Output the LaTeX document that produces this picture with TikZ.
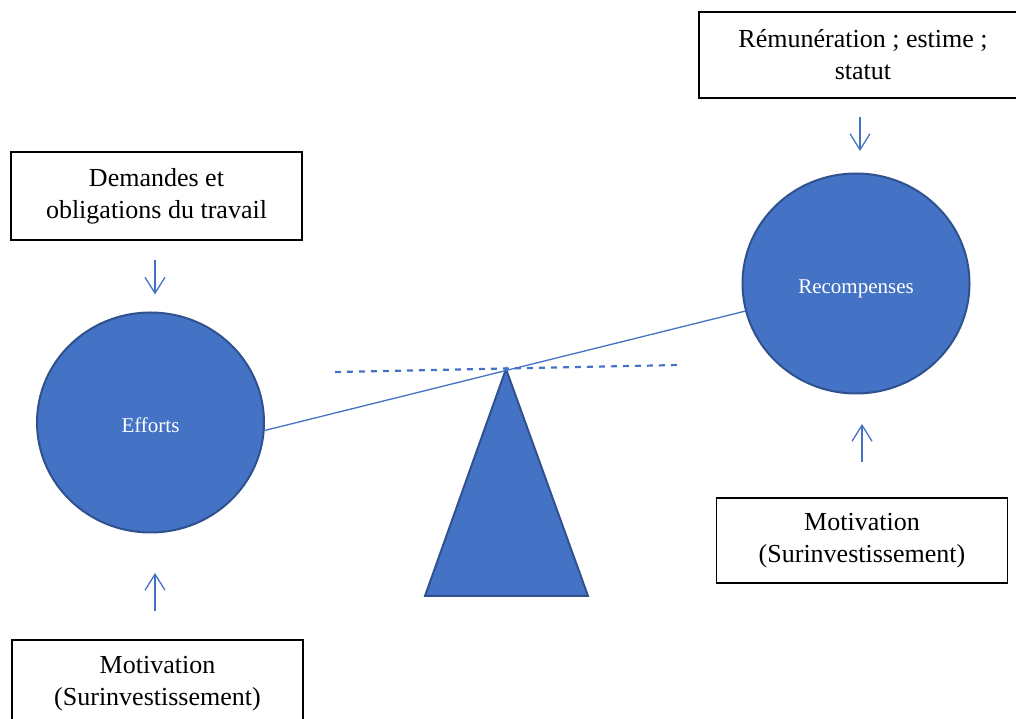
\documentclass[tikz,border=0pt]{standalone}
\usepackage{fontspec}
\setmainfont{Liberation Serif}
\usetikzlibrary{arrows.meta,shapes.geometric}
\definecolor{accent}{HTML}{4472C4}
\definecolor{accentdark}{HTML}{2F528F}
\begin{document}
\begin{tikzpicture}[x=1pt,y=1pt,
  textbox/.style={draw=black, line width=1.5pt, fill=white, minimum width=291pt,
    minimum height=88pt, align=center, inner sep=0pt,
    font=\fontsize{26}{32}\selectfont},
  disc/.style={ellipse, draw=accentdark, line width=2pt, fill=accent,
    minimum width=227pt, minimum height=220pt, inner sep=0pt, text=white,
    font=\fontsize{21}{25}\selectfont},
  flow/.style={draw=accent, line width=1.3pt, -{Straight Barb[length=16pt,width=20pt]}},
  beam/.style={draw=accent, line width=1.3pt},
  level/.style={draw=accent, line width=2.2pt, dash pattern=on 6pt off 6pt},
  pivot/.style={fill=accent, draw=accentdark, line width=2pt, line join=miter}]
\useasboundingbox (0,0) rectangle (1016,719);
\clip (0,0) rectangle (1016,719);

% fulcrum
\path[pivot] (506,350) -- (588,123) -- (425,123) -- cycle;

% boxes
\node[textbox, minimum width=328pt, minimum height=86pt] (pay) at (863,664)
  {Rémunération ; estime ;\\statut};
\node[textbox] (work) at (156.5,523) {Demandes et\\obligations du travail};
\node[textbox] (motl) at (157.5,35) {Motivation\\(Surinvestissement)};
\node[textbox, minimum height=85pt] (motr) at (862,178.5) {Motivation\\(Surinvestissement)};

% weights (labels sit a little below the centre)
\node[disc] (ef) at (150.5,296.5) {\raisebox{-3pt}[\height][\depth]{Efforts}};
\node[disc] (rc) at (856,435.5) {\raisebox{-5pt}[\height][\depth]{Recompenses}};

% balance beam and level reference
\draw[beam] (ef.-4) -- (rc.194);
\coordinate (lvlA) at (335,347);
\coordinate (lvlB) at (680,354);
\draw[level] (lvlA) -- (lvlB);

% influences
\draw[flow, shorten <=19pt, shorten >=17pt]
  ([xshift=-1.5pt]work.south) -- ([xshift=-1.5pt]work.south |- ef.north);
\draw[flow, shorten <=18pt, shorten >=21.5pt]
  ([xshift=-3pt]pay.south) -- ([xshift=-3pt]pay.south |- rc.north);
\draw[flow, shorten <=35pt, shorten >=29.5pt]
  (motr.north) -- (motr.north |- rc.south);
\draw[flow, shorten <=28pt, shorten >=39.5pt]
  ([xshift=-2.5pt]motl.north) -- ([xshift=-2.5pt]motl.north |- ef.south);
\end{tikzpicture}
\end{document}
